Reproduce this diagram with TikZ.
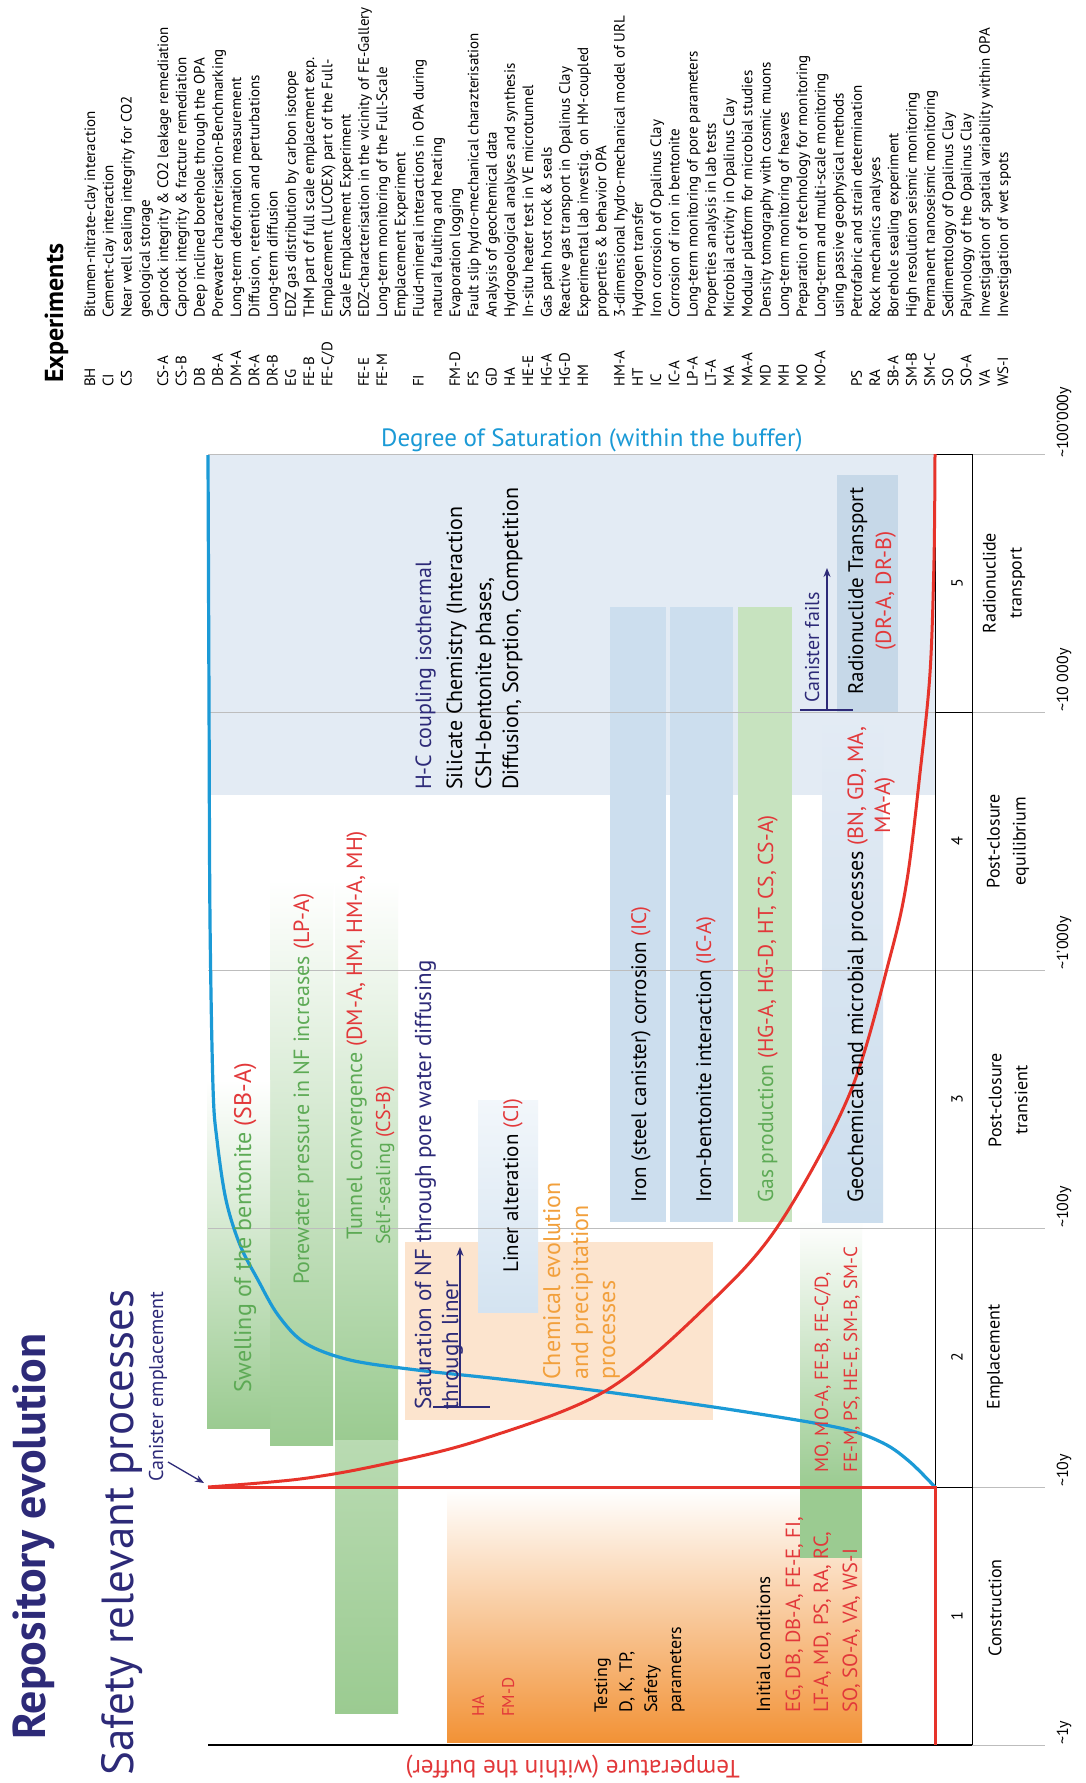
\documentclass[tikz,border=0pt]{standalone}
\usepackage{fontspec}
\setmainfont{PT Sans}
\usetikzlibrary{arrows.meta}
\definecolor{navy}{HTML}{2D2A78}
\definecolor{redtxt}{HTML}{E2383A}
\definecolor{greentxt}{HTML}{5DAA55}
\definecolor{orangetxt}{HTML}{F2A03C}
\definecolor{curveblue}{HTML}{1B9AD6}
\definecolor{curvered}{HTML}{E6332A}
\definecolor{paleblue}{HTML}{E3EBF4}
\definecolor{boxblue}{HTML}{CCDEEE}
\definecolor{radbox}{HTML}{C6D8E8}
\definecolor{greenband}{HTML}{9BCB91}
\definecolor{gasgreen}{HTML}{C7E3BF}
\definecolor{orangebg}{HTML}{F29236}
\definecolor{orangepale}{HTML}{FCE4CE}
\definecolor{gridgray}{HTML}{BDBDBD}
\newcommand\myfs[1]{\fontsize{#1}{#1}\selectfont}
\begin{document}
\begin{tikzpicture}[x=1pt,y=-1pt,
  rt/.style={rotate=90,inner sep=0pt,anchor=base west},
  rc/.style={rotate=90,inner sep=0pt,anchor=base},
  lst/.style={rt,font=\myfs{15}},
  proc/.style={rt,font=\myfs{20}},
  phase/.style={rotate=90,inner sep=0pt,anchor=center,align=center,font=\fontsize{18}{26}\selectfont},
  tlab/.style={rt,font=\myfs{16}},
  num/.style={rotate=90,inner sep=0pt,anchor=center,font=\myfs{16}},
  navyarrow/.style={navy,line width=1.3,-{Stealth[length=9pt,width=7pt]}},
  grid/.style={gridgray,line width=0.8}]
\useasboundingbox (0,0) rectangle (1086,1783);
\fill[white] (0,0) rectangle (1086,1783);

% ---------- backgrounds ----------
\fill[paleblue] (208,455) rectangle (935,795);
\shade[top color=white,bottom color=orangebg] (447,1490) rectangle (862,1742);
\shade[top color=white,bottom color=greenband] (800,1220) rectangle (862,1487);
\fill[greenband] (800,1487) rectangle (862,1558);
\shade[top color=white,bottom color=greenband] (335,880) rectangle (398,1440);
\shade[top color=greenband!70,bottom color=greenband] (335,1440) rectangle (398,1713);
\shade[top color=white,bottom color=greenband] (270,880) rectangle (333,1445);
\shade[top color=white,bottom color=greenband] (207,1080) rectangle (270,1428);
\fill[orangepale] (405,1242) rectangle (713,1420);
\shade[top color=boxblue!25,bottom color=boxblue!85] (478,1100) rectangle (538,1312);
\fill[boxblue] (610,607) rectangle (666,1222);
\fill[boxblue] (670,607) rectangle (733,1222);
\fill[gasgreen] (738,607) rectangle (792,1222);
\shade[top color=paleblue,bottom color=boxblue] (822,713) rectangle (883,1222);
\fill[radbox] (837,475) rectangle (898,712);

% ---------- grid ----------
\foreach \yy in {454,712,970,1228,1487} \draw[grid] (208,\yy) -- (1045,\yy);
\draw[black,line width=1.2] (208,1745) -- (972,1745);
\draw[grid] (972,1745) -- (1045,1745);
\draw[black,line width=1] (935,454) -- (935,1745) (972,454) -- (972,1745);
\draw[black,line width=1] (935,454) -- (972,454) (935,712) -- (972,712) (935,1487) -- (972,1487);

% ---------- curves ----------
\draw[curveblue,line width=3.2,line join=round] plot[smooth,tension=0.55] coordinates {
 (935,1487) (910,1462) (883,1443) (840,1428) (740,1411) (607,1392) (500,1379)
 (417,1370) (350,1360) (305,1343) (278,1315) (258,1280) (240,1245) (226,1200) (217,1140)
 (213,1087) (210,920) (209,700) (208,455)};
\draw[curvered,line width=3] (935,1745) -- (935,1487) -- (208,1487);
\draw[curvered,line width=3] plot[smooth,tension=0.55] coordinates {
 (208,1487) (300,1479) (380,1465) (480,1440) (607,1390) (713,1300) (780,1223) (850,1093)
 (890,957) (907,880) (920,773) (930,673) (934,560) (935,454)};

% ---------- titles ----------
\node[rt,font=\bfseries\myfs{46},text=navy] (title) at (45,1740) {Repository evolution};
\node[rt,font=\myfs{45},text=navy] (subtitle) at (133,1776) {Safety relevant processes};
\node[rt,font=\myfs{20},text=navy] (canemp) at (163,1482) {Canister emplacement};
\coordinate (ca1) at (168,1462);
\coordinate (ca2) at (204,1483);
\draw[navyarrow] (ca1) -- (ca2);

\node[anchor=base west,inner sep=0pt,font=\myfs{25},text=curveblue] (sat) at (381,446) {Degree of Saturation (within the buffer)};
\node[rotate=180,anchor=base west,inner sep=0pt,font=\myfs{25},text=redtxt] (temp) at (740,1760) {Temperature (within the buffer)};

% ---------- experiments list ----------
\node[rt,font=\bfseries\myfs{26}] (exphead) at (63,383) {Experiments};
\foreach \ecode/\edesc [count=\i] in {
 BH/Bitumen-nitrate-clay interaction,
 CI/Cement-clay interaction,
 CS/Near well sealing integrity for CO2,
 {}/geological storage,
 CS-A/Caprock integrity \& CO2 leakage remediation,
 CS-B/Caprock integrity \& fracture remediation,
 DB/Deep inclined borehole through the OPA,
 DB-A/Porewater characterisation-Benchmarking,
 DM-A/Long-term deformation measurement,
 DR-A/{Diffusion, retention and perturbations},
 DR-B/Long-term diffusion,
 EG/EDZ gas distribution by carbon isotope,
 FE-B/THM part of full scale emplacement exp.,
 FE-C\slash D/Emplacement (LUCOEX) part of the Full-,
 {}/Scale Emplacement Experiment,
 FE-E/EDZ-characterisation in the vicinity of FE-Gallery,
 FE-M/Long-term monitoring of the Full-Scale,
 {}/Emplacement Experiment,
 FI/Fluid-mineral interactions in OPA during,
 {}/natural faulting and heating,
 FM-D/Evaporation logging,
 FS/Fault slip hydro-mechanical charazterisation,
 GD/Analysis of geochemical data,
 HA/Hydrogeological analyses and synthesis,
 HE-E/In-situ heater test in VE microtunnel,
 HG-A/Gas path host rock \& seals,
 HG-D/Reactive gas transport in Opalinus Clay,
 HM/{Experimental lab investig. on HM-coupled},
 {}/properties \& behavior OPA,
 HM-A/3-dimensional hydro-mechanical model of URL,
 HT/Hydrogen transfer,
 IC/Iron corrosion of Opalinus Clay,
 IC-A/Corrosion of iron in bentonite,
 LP-A/Long-term monitoring of pore parameters,
 LT-A/Properties analysis in lab tests,
 MA/Microbial activity in Opalinus Clay,
 MA-A/Modular platform for microbial studies,
 MD/Density tomography with cosmic muons,
 MH/Long-term monitoring of heaves,
 MO/Preparation of technology for monitoring,
 MO-A/Long-term and multi-scale monitoring,
 {}/using passive geophysical methods,
 PS/Petrofabric and strain determination,
 RA/Rock mechanics analyses,
 SB-A/Borehole sealing experiment,
 SM-B/High resolution seismic monitoring,
 SM-C/Permanent nanoseismic monitoring,
 SO/Sedimentology of Opalinus Clay,
 SO-A/Palynology of the Opalinus Clay,
 VA/Investigation of spatial variability within OPA,
 WS-I/Investigation of wet spots}{
 \pgfmathsetmacro\xx{95+18.26*(\i-1)}
 \node[lst] (code\i) at (\xx,387) {\ecode};
 \node[lst] (desc\i) at (\xx,318) {\edesc};
}

% ---------- process labels ----------
\node[proc,font=\myfs{24},text=greentxt] (swell) at (251,1393) {Swelling of the bentonite \textcolor{redtxt}{(SB-A)}};
\node[proc,font=\myfs{22},text=greentxt] (pore) at (309,1285) {Porewater pressure in NF increases \textcolor{redtxt}{(LP-A)}};
\node[proc,font=\myfs{22},text=greentxt] (tunnel) at (362,1240) {Tunnel convergence \textcolor{redtxt}{(DM-A, HM, HM-A, MH)}};
\node[proc,text=greentxt] (selfs) at (390,1245) {Self-sealing \textcolor{redtxt}{(CS-B)}};
\node[proc,font=\myfs{23},text=navy] (satnf1) at (431,1410) {Saturation of NF through pore water diffusing};
\node[proc,font=\myfs{23},text=navy] (satnf2) at (458,1410) {through liner};
\coordinate (sb1) at (433,1407);
\coordinate (sb2) at (490,1407);
\coordinate (sa1) at (460,1407);
\coordinate (sa2) at (460,1247);
\draw[navy,line width=1.3] (sb1) -- (sb2);
\draw[navyarrow] (sa1) -- (sa2);
\node[proc,font=\myfs{21}] (liner) at (518,1273) {Liner alteration \textcolor{redtxt}{(CI)}};
\node[proc,font=\myfs{24},text=orangetxt] (chem1) at (560,1380) {Chemical evolution};
\node[proc,font=\myfs{24},text=orangetxt] (chem2) at (588,1380) {and precipitation};
\node[proc,font=\myfs{24},text=orangetxt] (chem3) at (615,1380) {processes};
\node[proc,font=\myfs{22},text=navy] (hc1) at (431,790) {H-C coupling isothermal};
\node[proc,font=\myfs{22}] (hc2) at (462,790) {Silicate Chemistry (Interaction};
\node[proc,font=\myfs{22}] (hc3) at (491,790) {CSH-bentonite phases,};
\node[proc,font=\myfs{22}] (hc4) at (518,790) {Diffusion, Sorption, Competition};
\node[proc,font=\myfs{21}] (iron) at (646,1203) {Iron (steel canister) corrosion \textcolor{redtxt}{(IC)}};
\node[proc,font=\myfs{21}] (ironb) at (711,1203) {Iron-bentonite interaction \textcolor{redtxt}{(IC-A)}};
\node[proc,font=\myfs{21.5},text=greentxt] (gas) at (773,1203) {Gas production \textcolor{redtxt}{(HG-A, HG-D, HT, CS, CS-A)}};
\node[proc,font=\myfs{22}] (geo) at (863,1203) {Geochemical and microbial processes \textcolor{redtxt}{(BN, GD, MA,}};
\node[rc,font=\myfs{22},text=redtxt] (geo3) at (890,805) {MA-A)};
\node[proc,font=\myfs{20},text=navy] (canf) at (819,703) {Canister fails};
\coordinate (cf1) at (800,710);
\coordinate (cf2) at (853,710);
\coordinate (cfa) at (827,710);
\coordinate (cfb) at (827,568);
\draw[navy,line width=1.3] (cf1) -- (cf2);
\draw[navyarrow] (cfa) -- (cfb);
\node[rc,font=\myfs{21}] (radio1) at (863,591) {Radionuclide Transport};
\node[rc,font=\myfs{22},text=redtxt] (radio2) at (891,591) {(DR-A, DR-B)};

\node[rt,font=\myfs{17},text=redtxt] (ha) at (484,1717) {HA};
\node[rt,font=\myfs{17},text=redtxt] (fmd) at (514,1717) {FM-D};
\node[rt,font=\myfs{18}] (test1) at (607,1713) {Testing};
\node[rt,font=\myfs{18}] (test2) at (632,1713) {D, K, TP,};
\node[rt,font=\myfs{18}] (test3) at (657,1713) {Safety};
\node[rt,font=\myfs{18}] (test4) at (681,1713) {parameters};
\node[rt,font=\myfs{19}] (init0) at (770,1713) {Initial conditions};
\node[rt,font=\myfs{20.5},text=redtxt] (init1) at (800,1713) {EG, DB, DB-A, FE-E, FI,};
\node[rt,font=\myfs{20.5},text=redtxt] (init2) at (828,1713) {LT-A, MD, PS, RA, RC,};
\node[rt,font=\myfs{20.5},text=redtxt] (init3) at (857,1713) {SO, SO-A, VA, WS-I};
\node[rt,font=\myfs{19},text=redtxt] (emp1) at (828,1473) {MO, MO-A, FE-B, FE-C/D,};
\node[rt,font=\myfs{19},text=redtxt] (emp2) at (857,1473) {FE-M, PS, HE-E, SM-B, SM-C};

% ---------- phases ----------
\node[num] (n1) at (957,1616) {1};
\node[num] (n2) at (957,1357) {2};
\node[num] (n3) at (957,1099) {3};
\node[num] (n4) at (957,841) {4};
\node[num] (n5) at (957,583) {5};
\node[phase] (ph1) at (995,1608) {Construction};
\node[phase] (ph2) at (995,1357) {Emplacement};
\node[phase] (ph3) at (1008,1100) {Post-closure\\transient};
\node[phase] (ph4) at (1008,841) {Post-closure\\equilibrium};
\node[phase] (ph5) at (1004,583) {Radionuclide\\transport};

\node[tlab] (t1) at (1068,1745) {\textasciitilde 1y};
\node[tlab] (t2) at (1068,1487) {\textasciitilde 10y};
\node[tlab] (t3) at (1068,1228) {\textasciitilde 100y};
\node[tlab] (t4) at (1068,970) {\textasciitilde 1'000y};
\node[tlab] (t5) at (1068,712) {\textasciitilde 10 000y};
\node[tlab] (t6) at (1068,458) {\textasciitilde 100'000y};
\end{tikzpicture}
\end{document}
